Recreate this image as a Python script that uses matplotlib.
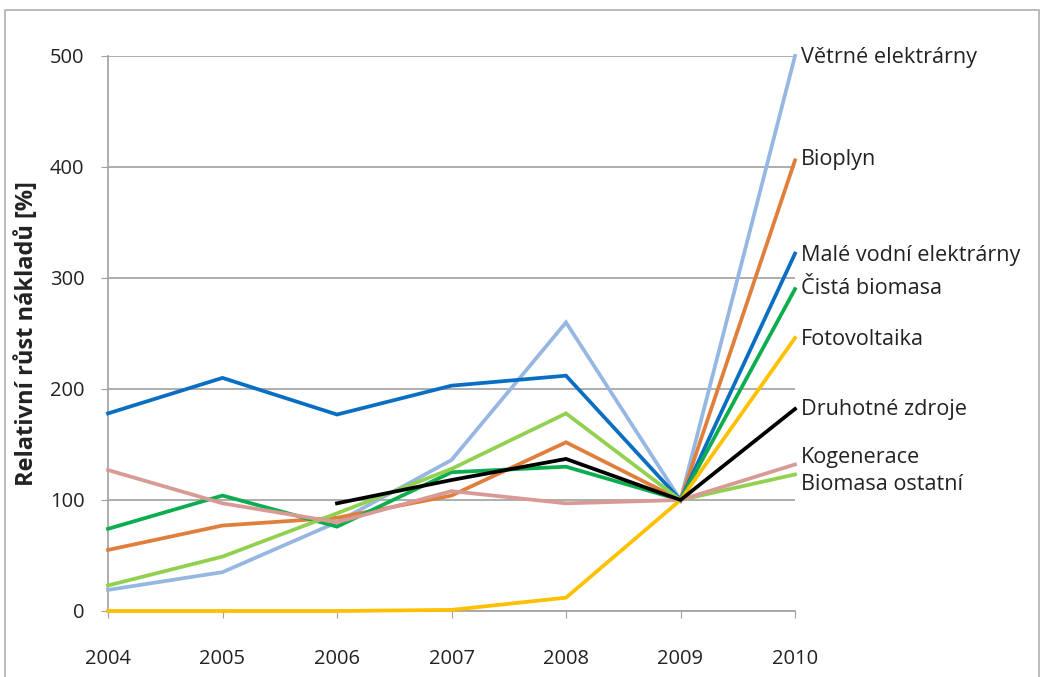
import matplotlib.pyplot as plt
from matplotlib.patches import Rectangle
import numpy as np

years = [2004, 2005, 2006, 2007, 2008, 2009, 2010]

vetrne = [19, 35, 80, 136, 260, 100, 500]
bioplyn = [55, 77, 84, 104, 152, 100, 406]
male_vodni = [178, 210, 177, 203, 212, 100, 322]
cista_biomasa = [74, 104, 76, 125, 130, 100, 290]
fotovoltaika = [0, 0, 0, 1, 12, 100, 246]
druhotne = [np.nan, np.nan, 97, 118, 137, 100, 182]
kogenerace = [127, 97, 80, 108, 97, 100, 132]
biomasa_ostatni = [23, 49, 88, 128, 178, 100, 123]

series = [
    ('Větrné elektrárny', vetrne, '#95B7E2', 57),
    ('Bioplyn', bioplyn, '#E07F3C', 160),
    ('Malé vodní elektrárny', male_vodni, '#0A6FC2', 256),
    ('Čistá biomasa', cista_biomasa, '#0CAD4E', 289),
    ('Biomasa ostatní', biomasa_ostatni, '#92D050', 485),
    ('Kogenerace', kogenerace, '#D99A96', 458),
    ('Fotovoltaika', fotovoltaika, '#FFC000', 339),
    ('Druhotné zdroje', druhotne, '#000000', 410),
]

plt.rcParams['font.family'] = ['Open Sans', 'DejaVu Sans']

fig = plt.figure(figsize=(10.44, 6.77), dpi=100)
ax = fig.add_axes([108 / 1044, 1 - 611 / 677, (795 - 108) / 1044, (611 - 56) / 677])

for name, vals, color, ypix in series:
    ax.plot(years, vals, color=color, lw=2.7, solid_joinstyle='miter',
            clip_on=False, zorder=3)
    fig.text(801 / 1044, 1 - ypix / 677, name, fontsize=15.6, color='#222222',
             va='center', ha='left')

ax.set_xlim(2004, 2010)
ax.set_ylim(0, 500)
ax.set_yticks(range(0, 501, 100))
ax.set_xticks(years)
ax.grid(axis='y', color='#A0A0A0', lw=1.2)
ax.set_axisbelow(True)
for s in ['top', 'right']:
    ax.spines[s].set_visible(False)
for s in ['left', 'bottom']:
    ax.spines[s].set_color('#A0A0A0')
    ax.spines[s].set_linewidth(1.2)
ax.tick_params(axis='both', colors='#A0A0A0', labelcolor='#222222', labelsize=14.5, length=5)
ax.tick_params(axis='x', pad=22)
ax.tick_params(axis='y', pad=12)
ax.set_ylabel('Relativní růst nákladů [%]', fontsize=17, fontweight='bold',
              color='#222222', labelpad=8)

fig.patches.append(Rectangle((5 / 1044, -0.05), 1034 / 1044, 1.05 - 10 / 677,
                             transform=fig.transFigure, fill=False,
                             edgecolor='#B0B0B0', lw=1.2))

fig.savefig('out.png', dpi=100)
